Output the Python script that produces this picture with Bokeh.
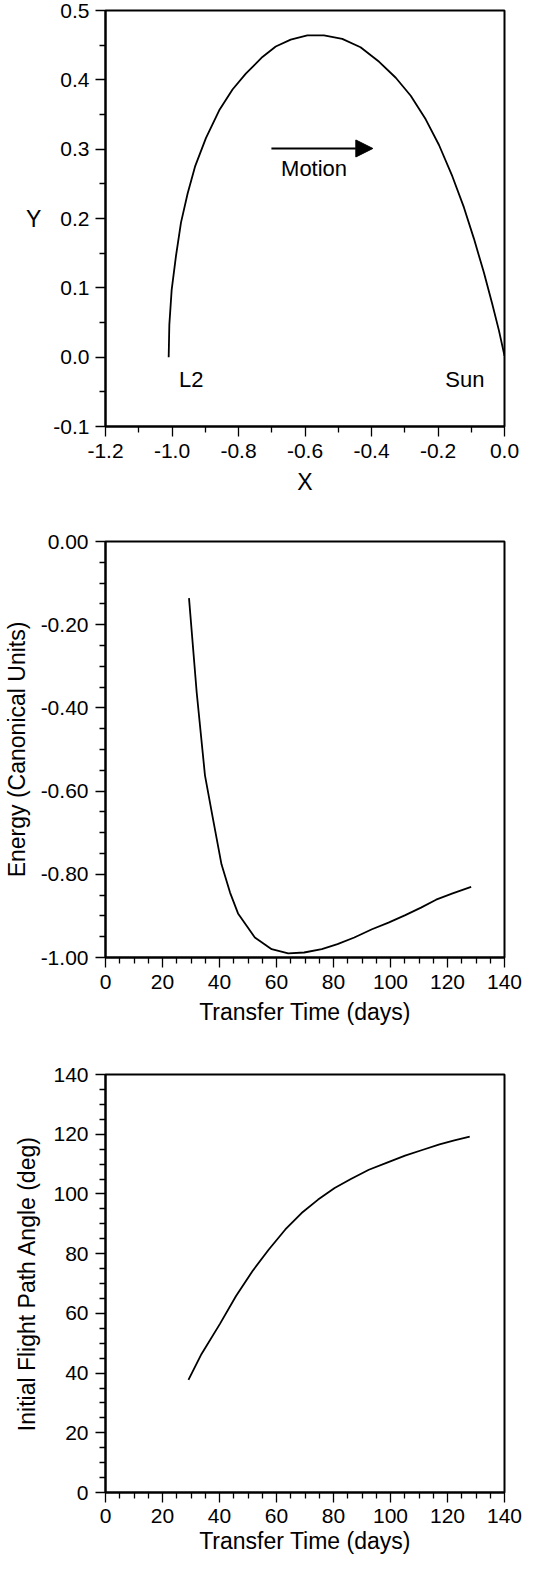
from bokeh.plotting import figure
from bokeh.layouts import column
from bokeh.models import Arrow, NormalHead, Range1d, FixedTicker, PrintfTickFormatter
from bokeh.core.properties import value
from bokeh.embed import file_html
from bokeh.resources import INLINE

# Trajectory L2 -> Sun (canonical units)
traj_x = [-1.010, -1.008, -1.001, -0.988, -0.973, -0.953, -0.930, -0.898, -0.858, -0.818,
          -0.778, -0.728, -0.688, -0.643, -0.593, -0.543, -0.488, -0.433, -0.377, -0.327,
          -0.282, -0.237, -0.197, -0.157, -0.122, -0.092, -0.062, -0.037, -0.017, 0.000]
traj_y = [0.000, 0.047, 0.097, 0.146, 0.194, 0.236, 0.276, 0.316, 0.356, 0.386,
          0.409, 0.433, 0.448, 0.458, 0.464, 0.464, 0.459, 0.447, 0.426, 0.403,
          0.377, 0.343, 0.306, 0.261, 0.216, 0.171, 0.122, 0.077, 0.039, 0.002]

# Energy vs transfer time
energy_t = [29.3, 32.0, 34.9, 37.5, 40.7, 43.7, 46.5, 52.4, 58.3, 64.1, 69.7, 75.9,
            81.4, 87.3, 93.5, 99.3, 105.2, 110.7, 116.0, 121.8, 128.3]
energy = [-0.136, -0.363, -0.562, -0.659, -0.776, -0.844, -0.894, -0.952, -0.980, -0.990,
          -0.988, -0.980, -0.968, -0.952, -0.932, -0.916, -0.898, -0.880, -0.861, -0.846, -0.830]

# Initial flight path angle vs transfer time
angle_t = [29.1, 33.7, 40.1, 45.8, 51.6, 57.3, 63.1, 68.8, 74.6, 80.4, 86.1, 92.4,
           98.8, 105.1, 111.4, 117.2, 122.4, 127.8]
angle = [37.7, 46.4, 56.4, 65.8, 74.2, 81.4, 88.1, 93.6, 98.1, 102.0, 105.0, 108.1,
         110.5, 112.8, 114.8, 116.6, 117.9, 119.2]

# tick positions
traj_xticks = [-1.2, -1.0, -0.8, -0.6, -0.4, -0.2, 0.0]
traj_xminor = [-1.1, -0.9, -0.7, -0.5, -0.3, -0.1]
traj_yticks = [-0.1, 0.0, 0.1, 0.2, 0.3, 0.4, 0.5]
traj_yminor = [-0.05, 0.05, 0.15, 0.25, 0.35, 0.45]
days_ticks = [0, 20, 40, 60, 80, 100, 120, 140]
days_minor = [d for d in range(0, 141, 5) if d % 20]
energy_ticks = [-1.0, -0.8, -0.6, -0.4, -0.2, 0.0]
energy_minor = [-0.95, -0.9, -0.85, -0.75, -0.7, -0.65, -0.55, -0.5, -0.45,
                -0.35, -0.3, -0.25, -0.15, -0.1, -0.05]
angle_ticks = [0, 20, 40, 60, 80, 100, 120, 140]
angle_minor = [a for a in range(0, 141, 5) if a % 20]

# annotations of the trajectory plot
label_text = ["L2", "Sun"]
label_x = [-0.979, -0.178]
label_y = [-0.032, -0.032]
motion_x = [-0.701, -0.396]
motion_y = [0.301, 0.301]
motion_label = (-0.672, 0.272)

FONT = "Liberation Sans"


def style(p, xt, xm, yt, ym):
    p.outline_line_color = "black"
    p.outline_line_width = 2
    p.grid.visible = False
    p.xaxis.ticker = FixedTicker(ticks=xt, minor_ticks=xm)
    p.yaxis.ticker = FixedTicker(ticks=yt, minor_ticks=ym)
    for ax in (p.xaxis, p.yaxis):
        ax.axis_line_width = 2
        ax.major_tick_line_width = 1.3
        ax.minor_tick_line_width = 1.3
        ax.major_tick_in = 0
        ax.major_tick_out = 10
        ax.minor_tick_in = 0
        ax.minor_tick_out = 6
        ax.major_label_text_font = FONT
        ax.major_label_text_font_size = "21px"
        ax.major_label_text_color = "black"
        ax.axis_label_text_font = FONT
        ax.axis_label_text_font_size = "23px"
        ax.axis_label_text_font_style = "normal"
        ax.axis_label_text_color = "black"
    p.xaxis.major_label_standoff = 7
    p.yaxis.major_label_standoff = 6


# --- trajectory ---
p1 = figure(width=528, height=520, output_backend="svg", toolbar_location=None,
            x_range=Range1d(-1.2, 0.0), y_range=Range1d(-0.1, 0.5),
            min_border_left=88, min_border_right=24, min_border_top=10, min_border_bottom=94)
style(p1, traj_xticks, traj_xminor, traj_yticks, traj_yminor)
p1.xaxis.formatter = PrintfTickFormatter(format="%.1f")
p1.yaxis.formatter = PrintfTickFormatter(format="%.1f")
p1.xaxis.axis_label = "X"
p1.yaxis.axis_label = "Y"
p1.yaxis.axis_label_orientation = "horizontal"
p1.xaxis.axis_label_standoff = 8
p1.yaxis.axis_label_standoff = 9
p1.line(traj_x, traj_y, line_color="black", line_width=1.8)
p1.text(label_x, label_y, text=label_text, text_font=value(FONT), text_font_size="22px",
        text_baseline="alphabetic", text_color="black")
p1.add_layout(Arrow(end=NormalHead(size=17, fill_color="black", line_color="black"),
                    x_start=motion_x[0], y_start=motion_y[0], x_end=motion_x[1], y_end=motion_y[1],
                    line_color="black", line_width=2))
p1.text([motion_label[0]], [motion_label[1]], text=["Motion"], text_font=value(FONT),
        text_font_size="22px", text_baseline="alphabetic", text_color="black")

# --- energy ---
p2 = figure(width=528, height=532, output_backend="svg", toolbar_location=None,
            x_range=Range1d(0, 140), y_range=Range1d(-1.0, 0.0),
            min_border_left=99, min_border_right=13, min_border_top=21, min_border_bottom=95)
style(p2, days_ticks, days_minor, energy_ticks, energy_minor)
p2.yaxis.formatter = PrintfTickFormatter(format="%.2f")
p2.yaxis.major_label_standoff = 7
p2.xaxis.axis_label = "Transfer Time (days)"
p2.yaxis.axis_label = "Energy (Canonical Units)"
p2.xaxis.axis_label_standoff = 7
p2.yaxis.axis_label_standoff = 8
p2.line(energy_t, energy, line_color="black", line_width=1.8)

# --- flight path angle ---
p3 = figure(width=528, height=508, output_backend="svg", toolbar_location=None,
            x_range=Range1d(0, 140), y_range=Range1d(0, 140),
            min_border_left=90, min_border_right=17, min_border_top=22, min_border_bottom=68)
style(p3, days_ticks, days_minor, angle_ticks, angle_minor)
p3.xaxis.major_label_standoff = 6
p3.yaxis.major_label_standoff = 7
p3.xaxis.axis_label = "Transfer Time (days)"
p3.yaxis.axis_label = "Initial Flight Path Angle (deg)"
p3.xaxis.axis_label_standoff = 2
p3.yaxis.axis_label_standoff = 10
p3.line(angle_t, angle, line_color="black", line_width=1.8)

layout = column(p1, p2, p3, spacing=0)
open("out.html", "w").write(file_html(layout, INLINE))
